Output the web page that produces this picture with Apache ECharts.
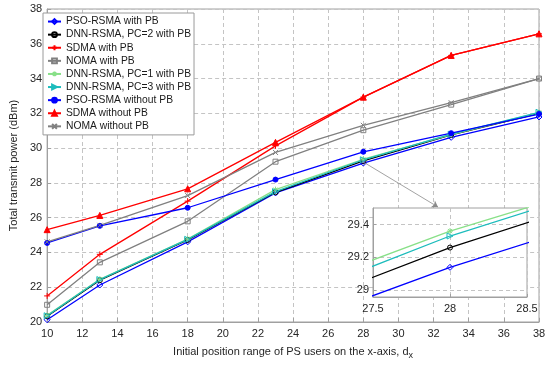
<!DOCTYPE html>
<html>
<head>
<meta charset="utf-8">
<script src="https://cdn.jsdelivr.net/npm/echarts@6/dist/echarts.min.js"></script>
<style>html,body{margin:0;padding:0;background:#fff}#c{width:550px;height:365px}</style>
</head>
<body>
<div id="c"></div>
<script>
const xVals = [10, 13, 18, 23, 28, 33, 38];
const psoWithPB   = [20.13, 22.13, 24.61, 27.42, 29.14, 30.62, 31.79];
const dnn2WithPB  = [20.33, 22.40, 24.72, 27.46, 29.26, 30.76, 32.00];
const sdmaWithPB  = [21.50, 23.89, 26.95, 30.13, 32.93, 35.33, 36.57];
const nomaWithPB  = [20.99, 23.43, 25.79, 29.22, 31.03, 32.50, 34.00];
const dnn1WithPB  = [20.38, 22.46, 24.77, 27.61, 29.36, 30.78, 32.04];
const dnn3WithPB  = [20.36, 22.44, 24.75, 27.50, 29.33, 30.80, 32.06];
const psoNoPB     = [24.55, 25.53, 26.57, 28.19, 29.79, 30.86, 31.96];
const sdmaNoPB    = [25.31, 26.13, 27.66, 30.33, 32.93, 35.33, 36.57];
const nomaNoPB    = [24.61, 25.56, 27.27, 29.75, 31.31, 32.61, 34.00];
const insetSeries = ['PSO-RSMA with PB', 'DNN-RSMA, PC=2 with PB', 'DNN-RSMA, PC=1 with PB', 'DNN-RSMA, PC=3 with PB'];

const PLUS = 'path://M5,0L5,10M0,5L10,5';
const CROSS = 'path://M0,0L10,10M10,0L0,10';
const STAR = 'path://M5,0L5,10M0,5L10,5M1.5,1.5L8.5,8.5M8.5,1.5L1.5,8.5';
const RTRI = 'path://M0,0L10,5L0,10Z';

const defs = [
  {name: 'PSO-RSMA with PB', data: psoWithPB, color: '#0000ff', symbol: 'diamond', size: 6, open: true},
  {name: 'DNN-RSMA, PC=2 with PB', data: dnn2WithPB, color: '#000000', symbol: 'circle', size: 5, open: true},
  {name: 'SDMA with PB', data: sdmaWithPB, color: '#ff0000', symbol: PLUS, size: 6, open: true},
  {name: 'NOMA with PB', data: nomaWithPB, color: '#808080', symbol: 'rect', size: 5, open: true},
  {name: 'DNN-RSMA, PC=1 with PB', data: dnn1WithPB, color: '#88e088', symbol: STAR, size: 6, open: true},
  {name: 'DNN-RSMA, PC=3 with PB', data: dnn3WithPB, color: '#1cbcbc', symbol: RTRI, size: 6, open: true},
  {name: 'PSO-RSMA without PB', data: psoNoPB, color: '#0000ff', symbol: 'circle', size: 5, open: false},
  {name: 'SDMA without PB', data: sdmaNoPB, color: '#ff0000', symbol: 'triangle', size: 6, open: false},
  {name: 'NOMA without PB', data: nomaNoPB, color: '#808080', symbol: CROSS, size: 5, open: true}
];

function mk(d, gi) {
  return {
    name: d.name, type: 'line',
    xAxisIndex: gi, yAxisIndex: gi,
    data: xVals.map((x, i) => [x, d.data[i]]),
    symbol: d.symbol, symbolSize: d.size,
    showSymbol: true, clip: true,
    lineStyle: {color: d.color, width: 1.3},
    itemStyle: {color: d.open ? 'none' : d.color, borderColor: d.color, borderWidth: 1},
    z: gi === 1 ? 6 : 2,
    silent: true, animation: false
  };
}

const series = defs.map(d => mk(d, 0));
defs.filter(d => insetSeries.includes(d.name)).forEach(d => {
  const s = mk(d, 1);
  s.legendHoverLink = false;
  series.push(s);
});
// arrow annotation from the zoomed point to the inset
series[0].markLine = {
  silent: true, symbol: ['none', 'arrow'], symbolSize: 6,
  lineStyle: {color: '#8a8a8a', width: 0.8, type: 'solid'},
  label: {show: false},
  data: [[{coord: [28, 29.2]}, {x: 438, y: 207}]]
};

const axisTxt = {color: '#262626', fontSize: 11, fontFamily: 'Liberation Sans, Arial, sans-serif'};
const chart = echarts.init(document.getElementById('c'), null, {renderer: 'canvas'});
chart.setOption({
  animation: false,
  backgroundColor: '#fff',
  legend: {
    data: defs.map(d => d.name),
    orient: 'vertical', left: 43, top: 13,
    padding: [2, 3, 2, 4], itemGap: 0, itemWidth: 13, itemHeight: 6,
    backgroundColor: '#fff', borderColor: '#9a9a9a', borderWidth: 1,
    textStyle: {color: '#1a1a1a', fontSize: 10.3, lineHeight: 13.1, fontFamily: 'Liberation Sans, Arial, sans-serif'},
    selectedMode: false, z: 10
  },
  grid: [
    {left: 43, right: 11, top: 9, bottom: 41, show: true, borderColor: '#a0a0a0', borderWidth: 1, backgroundColor: 'transparent'},
    {left: 373, top: 208, width: 154, height: 89, show: true, borderColor: '#a0a0a0', borderWidth: 1, backgroundColor: '#fff', z: 4}
  ],
  xAxis: [
    {type: 'value', gridIndex: 0, min: 10, max: 38, interval: 2,
     name: 'Initial position range of PS users on the x-axis, d{s|x}', nameLocation: 'middle', nameGap: 21,
     nameTextStyle: Object.assign({}, axisTxt, {rich: {s: {fontSize: 9, padding: [8, 0, 0, 0], color: '#262626', fontFamily: 'Liberation Sans, Arial, sans-serif'}}}),
     axisLine: {lineStyle: {color: '#a0a0a0'}}, axisTick: {inside: true, length: 4, lineStyle: {color: '#a0a0a0'}},
     axisLabel: Object.assign({margin: 6}, axisTxt),
     splitLine: {show: true, lineStyle: {color: '#c4c4c4', type: [4, 3]}}},
    {type: 'value', gridIndex: 1, min: 27.5, max: 28.5, interval: 0.5, z: 5,
     axisLine: {lineStyle: {color: '#a0a0a0'}}, axisTick: {inside: true, length: 3, lineStyle: {color: '#a0a0a0'}},
     axisLabel: Object.assign({margin: 6, formatter: v => String(+v.toFixed(1))}, axisTxt),
     splitLine: {show: true, lineStyle: {color: '#c4c4c4', type: [4, 3]}}}
  ],
  yAxis: [
    {type: 'value', gridIndex: 0, min: 20, max: 38, interval: 2,
     name: 'Total transmit power (dBm)', nameLocation: 'middle', nameGap: 25,
     nameTextStyle: axisTxt,
     axisLine: {lineStyle: {color: '#a0a0a0'}}, axisTick: {inside: true, length: 4, lineStyle: {color: '#a0a0a0'}},
     axisLabel: Object.assign({margin: 5}, axisTxt),
     splitLine: {show: true, lineStyle: {color: '#c4c4c4', type: [4, 3]}}},
    {type: 'value', gridIndex: 1, min: 28.96, max: 29.5, z: 5,
     axisLine: {lineStyle: {color: '#a0a0a0'}},
     axisTick: {inside: true, length: 3, lineStyle: {color: '#a0a0a0'}, customValues: [29, 29.2, 29.4]},
     axisLabel: Object.assign({margin: 4, customValues: [29, 29.2, 29.4], formatter: v => String(+v.toFixed(1))}, axisTxt),
     splitLine: {show: true, lineStyle: {color: '#c4c4c4', type: [4, 3]}}}
  ],
  series: series
});
</script>
</body>
</html>
